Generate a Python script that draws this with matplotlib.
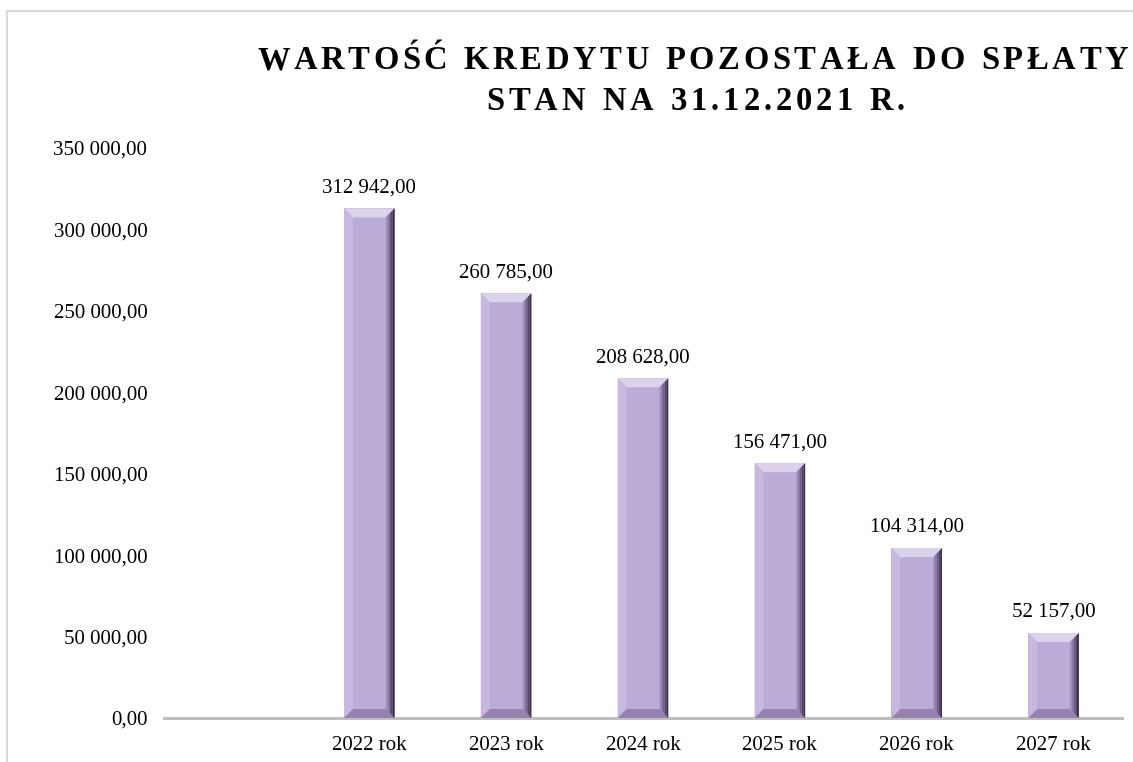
import matplotlib
matplotlib.use("Agg")
import matplotlib.pyplot as plt
from matplotlib.patches import Polygon, Rectangle
from matplotlib.ticker import FuncFormatter
import numpy as np

# chart data
categories = ["", "2022 rok", "2023 rok", "2024 rok", "2025 rok", "2026 rok", "2027 rok"]
values = [0, 312942, 260785, 208628, 156471, 104314, 52157]
title_lines = ["WARTOŚĆ KREDYTU POZOSTAŁA DO SPŁATY", "STAN NA 31.12.2021 R."]
y_ticks = [0, 50000, 100000, 150000, 200000, 250000, 300000, 350000]

serif = ["Liberation Serif", "DejaVu Serif"]
plt.rcParams["font.family"] = serif


def pl_num(v):
    # 312942 -> "312 942,00"
    s = f"{v:,.2f}"
    return s.replace(",", " ").replace(".", ",")


fig = plt.figure(figsize=(11.33, 7.62), dpi=100)
W, H = 1133, 762
ax = fig.add_axes([164 / W, 1 - 718 / H, (1122 - 164) / W, (718 - 148) / H])

x = np.arange(len(categories))
bw = 0.37
base = "#BBABD7"
bars = ax.bar(x, values, width=bw, color=base, zorder=2)

ax.set_xlim(-0.5, len(categories) - 0.5)
ax.set_ylim(0, 350000)
ax.set_yticks(y_ticks)
ax.yaxis.set_major_formatter(FuncFormatter(lambda v, p: pl_num(v)))
ax.set_xticks(x)
ax.set_xticklabels(categories)
ax.tick_params(axis="y", length=0, pad=12, labelsize=15)
ax.tick_params(axis="x", length=0, pad=13, labelsize=15)
for s in ["top", "right", "left"]:
    ax.spines[s].set_visible(False)
ax.spines["bottom"].set_color("#BFBFBF")
ax.spines["bottom"].set_linewidth(2.2)
ax.spines["bottom"].set_zorder(1)

# bevel in pixels -> data units
px_x = ax.transData.transform((1, 0))[0] - ax.transData.transform((0, 0))[0]
px_y = ax.transData.transform((0, 1))[1] - ax.transData.transform((0, 0))[1]
bx = 9 / px_x
by = 9 / px_y

right_cols = ["#A493BE", "#8A79A3", "#6F5F86", "#54466A", "#3A3049"]
for rect, v in zip(bars, values):
    if v <= 0:
        continue
    x0 = rect.get_x()
    x1 = x0 + rect.get_width()
    y1 = rect.get_height()
    # top face
    ax.add_patch(Polygon([(x0, y1), (x1, y1), (x1 - bx, y1 - by), (x0 + bx, y1 - by)],
                         closed=True, color="#DCD2EE", lw=0, zorder=3))
    # left face
    ax.add_patch(Polygon([(x0, 0), (x0, y1), (x0 + bx, y1 - by), (x0 + bx, by)],
                         closed=True, color="#C6B8DF", lw=0, zorder=3))
    # bottom face
    ax.add_patch(Polygon([(x0, 0), (x1, 0), (x1 - bx, by), (x0 + bx, by)],
                         closed=True, color="#9583AF", lw=0, zorder=3))
    # right face, darker toward the edge
    n = len(right_cols)
    for k, c in enumerate(right_cols):
        a = x1 - bx + bx * k / n
        b = x1 - bx + bx * (k + 1) / n
        fa = k / n
        fb = (k + 1) / n
        ax.add_patch(Polygon([(a, y1 - by * (1 - fa)), (b, y1 - by * (1 - fb)),
                              (b, by * (1 - fb)), (a, by * (1 - fa))],
                             closed=True, color=c, lw=0, zorder=3))
    ax.annotate(pl_num(v), (rect.get_x() + rect.get_width() / 2, y1),
                xytext=(0, 8), textcoords="offset points",
                ha="center", va="bottom", fontsize=15, color="#000000")

# light frame around the chart area
fig.patches.append(Rectangle((7 / W, -0.1), 1.2, 1 - 11 / H + 0.1, transform=fig.transFigure,
                             fill=False, edgecolor="#D9D9D9", lw=1.5))


def spaced_text(fig, x_left, x_right, y, text, size):
    # letter-spaced text filling x_left..x_right (pixels), baseline y (pixels from top)
    r = fig.canvas.get_renderer()
    widths = []
    for ch in text:
        t = fig.text(0, 0, ch if ch != " " else "n", fontsize=size, fontweight="bold")
        bb = t.get_window_extent(renderer=r)
        w = bb.width if ch != " " else bb.width * 0.5
        widths.append(w)
        t.remove()
    track = (x_right - x_left - sum(widths)) / (len(text) - 1)
    xpos = x_left
    for ch, w in zip(text, widths):
        if ch != " ":
            fig.text(xpos / W, 1 - y / H, ch, fontsize=size, fontweight="bold",
                     ha="left", va="baseline", color="#000000")
        xpos += w + track


spaced_text(fig, 257, 1128, 69, title_lines[0], 23.5)
spaced_text(fig, 486, 905, 110, title_lines[1], 23.5)

fig.savefig("out.png", dpi=100)
